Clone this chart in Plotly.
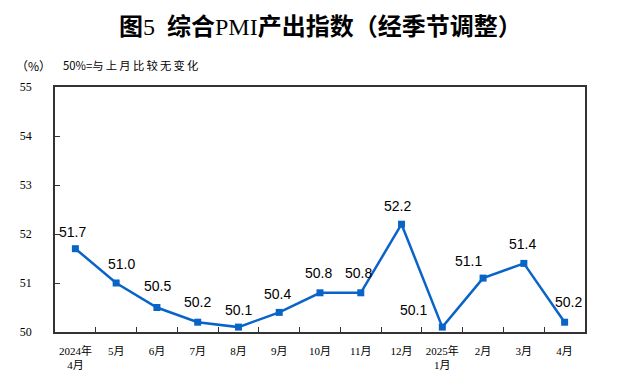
import plotly.graph_objects as go

categories = ["2024年<br>4月", "5月", "6月", "7月", "8月", "9月", "10月", "11月", "12月",
              "2025年<br>1月", "2月", "3月", "4月"]
values = [51.7, 51.0, 50.5, 50.2, 50.1, 50.4, 50.8, 50.8, 52.2, 50.1, 51.1, 51.4, 50.2]
y_ticks = [50, 51, 52, 53, 54, 55]

# label offsets (pixels) relative to each point
label_dx = [-3, 5, 1, 0, 0, -2, -2, -2, -4, -29, -15, -1, 4]
label_dy = [17, 19, 22, 20, 17, 18, 20, 20, 18, 17, 17, 19, 20]

blue = "#0a64c8"
fig = go.Figure()
fig.add_trace(go.Scatter(
    x=categories, y=values, mode="lines+markers",
    line=dict(color=blue, width=2.5),
    marker=dict(symbol="square", size=7, color=blue),
    hoverinfo="skip", showlegend=False,
))
for c, v, dx, dy in zip(categories, values, label_dx, label_dy):
    fig.add_annotation(x=c, y=v, text=f"{v:.1f}", showarrow=False,
                       xshift=dx, yshift=dy,
                       font=dict(family="Liberation Sans, Arial", size=14, color="#000"))

fig.add_annotation(xref="paper", yref="paper", x=0.5, y=1, yshift=60,
                   xanchor="center", yanchor="middle", showarrow=False,
                   text="<b>图</b>5  <b>综合</b>PMI<b>产出指数（经季节调整）</b>",
                   font=dict(family="Liberation Serif, Noto Sans CJK SC", size=24, color="#000"))
fig.add_annotation(xref="paper", yref="paper", x=-0.078, y=1, yshift=22,
                   xanchor="left", yanchor="middle", showarrow=False,
                   text="（%）",
                   font=dict(family="Noto Sans CJK SC", size=12, color="#000"))
fig.add_annotation(xref="paper", yref="paper", x=0.012, y=1, yshift=22,
                   xanchor="left", yanchor="middle", showarrow=False,
                   text="50%=与\u2009上\u2009月\u2009比\u2009较\u2009无\u2009变\u2009化",
                   font=dict(family="Noto Sans CJK SC", size=11.3, color="#000"))

fig.update_layout(
    width=620, height=384,
    margin=dict(l=47, r=43, t=79, b=60, autoexpand=False),
    paper_bgcolor="white", plot_bgcolor="white",
    xaxis=dict(
        type="category", range=[-0.5, 12.5], tickson="boundaries",
        ticks="inside", ticklen=5, tickcolor="#333", tickwidth=1,
        showline=True, linecolor="#333", linewidth=1.5, mirror=True,
        showgrid=False, zeroline=False, tickangle=0, automargin=False,
        ticklabelstandoff=8,
        tickfont=dict(family="Liberation Serif, Noto Sans CJK SC", size=11, color="#000"),
    ),
    yaxis=dict(
        range=[50, 55], tickvals=y_ticks, ticktext=[str(t) for t in y_ticks],
        ticks="inside", ticklen=5, tickcolor="#333", tickwidth=1,
        showline=True, linecolor="#333", linewidth=1.5, mirror=True,
        showgrid=False, zeroline=False, automargin=False,
        ticklabelstandoff=19,
        tickfont=dict(family="Liberation Serif", size=12, color="#000"),
    ),
)
fig.write_html("out.html")
